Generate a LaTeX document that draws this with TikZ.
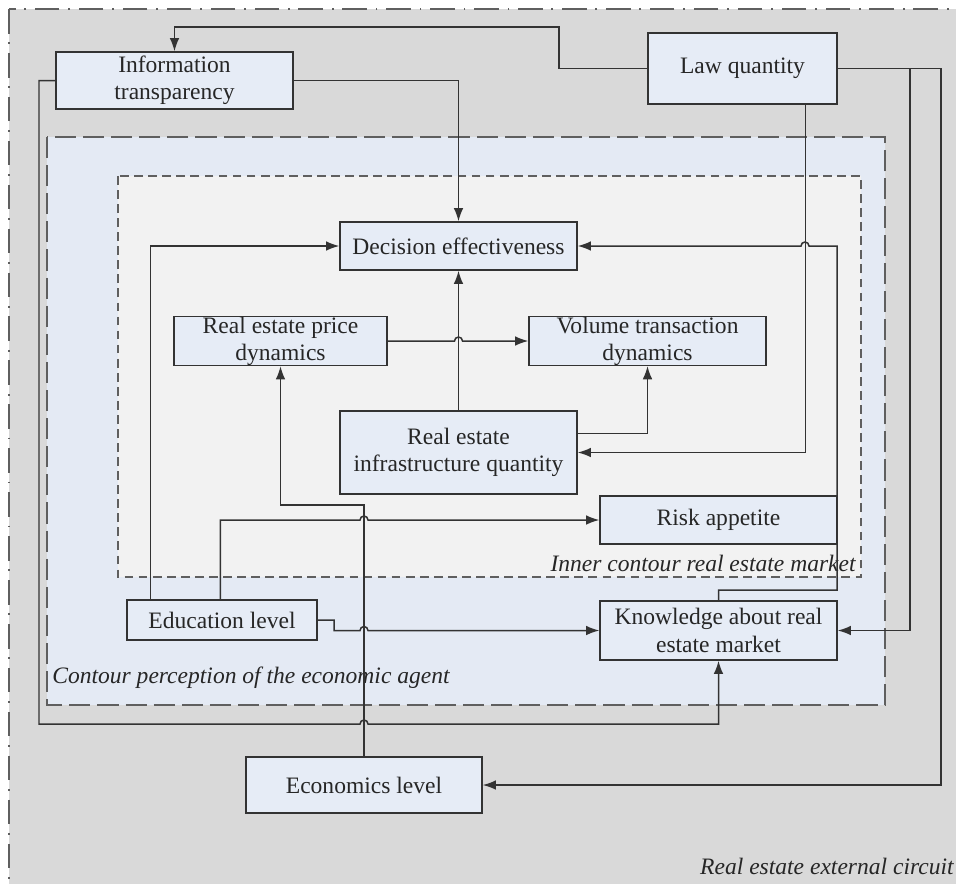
\documentclass[tikz,border=0pt]{standalone}
\usepackage{fontspec}
\setmainfont{Liberation Serif}
\newfontfamily\tmsfont{Liberation Serif}
\usetikzlibrary{arrows.meta}
\definecolor{outerbg}{HTML}{D9D9D9}
\definecolor{midbg}{HTML}{E4EAF4}
\definecolor{innerbg}{HTML}{F2F2F2}
\definecolor{boxfill}{HTML}{E6ECF6}
\definecolor{linec}{HTML}{333333}
\definecolor{dashc}{HTML}{5F5F5F}
\begin{document}
\begin{tikzpicture}[x=0.02cm,y=0.02cm,
  every node/.style={font=\tmsfont\fontsize{13.4}{15.5}\selectfont, text=black!85},
  box/.style={draw=linec, line width=0.85pt, fill=boxfill, align=center, inner sep=0pt},
  conn/.style={draw=linec, line width=0.85pt},
  arr/.style={conn, -{Latex[length=7.5pt,width=5.5pt]}},
  lbl/.style={font=\tmsfont\fontsize{13.4}{15.5}\selectfont\itshape, inner sep=0pt},
  outerframe/.style={fill=outerbg, draw=dashc, line width=1pt, dash pattern=on 14pt off 5pt on 1pt off 5pt},
  midframe/.style={fill=midbg, draw=dashc, line width=1.1pt, dash pattern=on 12pt off 4pt},
  innerframe/.style={fill=innerbg, draw=dashc, line width=0.85pt, dash pattern=on 5pt off 3pt}
]
\useasboundingbox (0,0) rectangle (956,-883);
\clip (0,0) rectangle (956,-883);
\fill[white] (0,0) rectangle (956,-883);

% contours
\path[outerframe] (9,-9) rectangle (990,-920);
\path[midframe] (47,-137) rectangle (885,-705);
\path[innerframe] (118,-176) rectangle (861,-577);

% labels
\node[lbl, anchor=east] (innerlbl) at (856,-563) {Inner contour real estate market};
\node[lbl, anchor=west] (midlbl) at (52,-678) {Contour perception of the economic agent};
\node[lbl, anchor=east] (outerlbl) at (954,-866) {Real estate external circuit};

% nodes
\node[box, minimum width=4.74cm, minimum height=1.14cm] (info) at (174.5,-80.5) {Information\\transparency};
\node[box, minimum width=3.78cm, minimum height=1.42cm] (law) at (742.5,-68.5) {Law quantity};
\node[box, minimum width=4.74cm, minimum height=0.96cm] (dec) at (458.5,-246) {Decision effectiveness};
\node[box, minimum width=4.26cm, minimum height=0.98cm] (price) at (280.5,-341) {Real estate price\\dynamics};
\node[box, minimum width=4.74cm, minimum height=0.96cm] (vol) at (647.5,-341) {Volume transaction\\dynamics};
\node[box, minimum width=4.74cm, minimum height=1.66cm] (infra) at (458.5,-452.5) {Real estate\\infrastructure quantity};
\node[box, minimum width=4.74cm, minimum height=0.96cm] (risk) at (718.5,-520) {Risk appetite};
\node[box, minimum width=3.80cm, minimum height=0.80cm] (edu) at (222,-620) {Education level};
\node[box, minimum width=4.74cm, minimum height=1.18cm] (know) at (718.5,-630.5) {Knowledge about real\\estate market};
\node[box, minimum width=4.72cm, minimum height=1.12cm] (econ) at (364,-785) {Economics level};

% connectors
\draw[arr] (law.west) -| (559,-27) -| (info.north);
\draw[arr] (info.east) -| (dec.north);
\draw[arr] (info.west) -| (39,-724) -- (360,-724) arc[start angle=180,end angle=0,radius=0.08cm] -| (know.south);
\draw[arr] ([xshift=-0.64cm]law.south east) |- (infra.east);
\draw[arr] (law.east) -- (910,-68.5) |- (know.east);
\draw[arr] (law.east) -- (941,-68.5) |- (econ.east);
\draw[arr] (know.north) |- (837,-590) -- (837,-246) -- (809,-246) arc[start angle=0,end angle=180,radius=0.08cm] -- (dec.east);
\draw[arr] ([xshift=0.48cm]edu.north west) |- (dec.west);
\draw[arr] ([xshift=1.88cm]edu.north west) |- (360,-520) arc[start angle=180,end angle=0,radius=0.08cm] -- (risk.west);
\draw[arr] (edu.east) -- (334,-620) |- (360,-630.5) arc[start angle=180,end angle=0,radius=0.08cm] -- (know.west);
\draw[arr] (econ.north) |- (364,-505) -| (price.south);
\draw[arr] (price.east) -- (454.5,-341) arc[start angle=180,end angle=0,radius=0.08cm] -- (vol.west);
\draw[arr] (infra.north) -- (dec.south);
\draw[arr] ([yshift=-0.46cm]infra.north east) -| (vol.south);
\end{tikzpicture}
\end{document}
